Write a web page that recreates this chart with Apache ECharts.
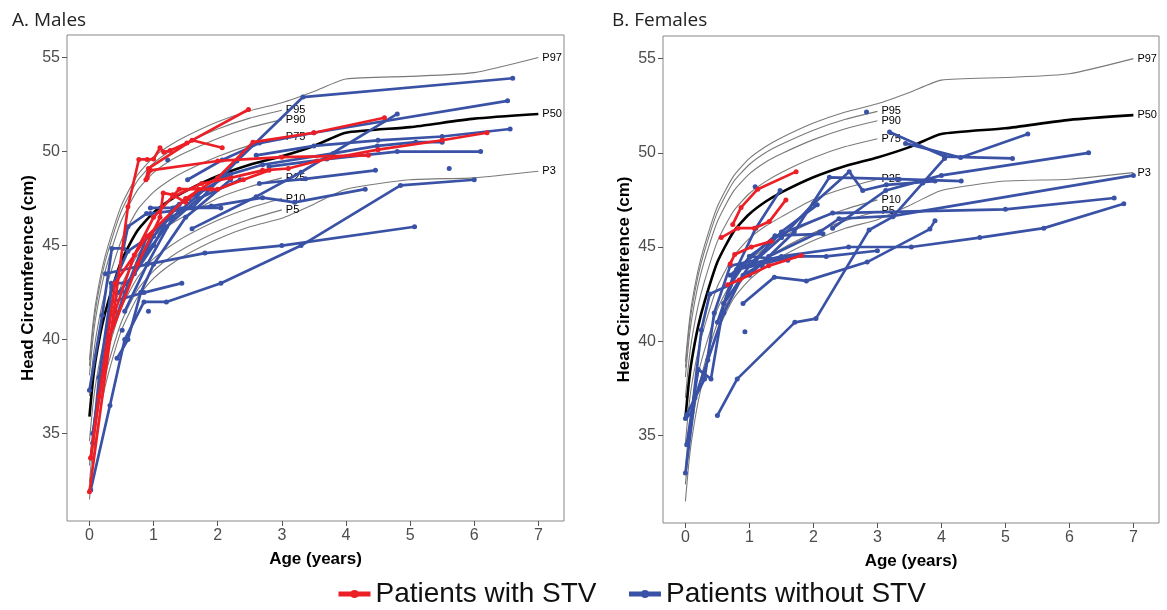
<!DOCTYPE html>
<html>
<head>
<meta charset="utf-8">
<script src="https://cdn.jsdelivr.net/npm/echarts@6/dist/echarts.min.js"></script>
<style>
  html, body { margin: 0; padding: 0; background: #fff; }
  #chart { width: 1167px; height: 610px; }
</style>
</head>
<body>
<div id="chart"></div>
<script>
// reference percentile curves (same curves drawn in both panels)
var pctAge = [0, 0.05, 0.1, 0.2, 0.3, 0.5, 0.75, 1, 1.25, 1.5, 2, 2.5, 3];
var lateAge = [3.5, 4, 5, 6, 7];
var p97 = [38.9, 40.7, 42.0, 43.8, 45.1, 47.15, 48.75, 49.7, 50.32, 50.8, 51.58, 52.17, 52.6];
var p95 = [38.6, 40.4, 41.7, 43.5, 44.8, 46.85, 48.45, 49.38, 50.0, 50.45, 51.2, 51.78, 52.2];
var p90 = [38.1, 39.9, 41.2, 43.0, 44.3, 46.35, 47.95, 48.88, 49.5, 49.95, 50.7, 51.28, 51.7];
var p75 = [37.0, 38.8, 40.1, 41.9, 43.2, 45.3, 46.9, 47.84, 48.47, 48.96, 49.74, 50.33, 50.75];
var p50 = [35.9, 37.7, 39.0, 40.8, 42.1, 44.2, 45.8, 46.75, 47.4, 47.9, 48.7, 49.3, 49.75];
var p25 = [34.6, 36.4, 37.7, 39.5, 40.8, 42.9, 44.5, 45.46, 46.1, 46.6, 47.52, 48.13, 48.6];
var p10 = [33.3, 35.1, 36.4, 38.25, 39.55, 41.7, 43.3, 44.3, 44.95, 45.5, 46.35, 47.0, 47.5];
var p5  = [32.4, 34.25, 35.6, 37.45, 38.8, 40.95, 42.65, 43.65, 44.35, 44.9, 45.75, 46.4, 46.9];
var p3  = [31.5, 33.4, 34.8, 36.8, 38.25, 40.5, 42.25, 43.25, 43.95, 44.5, 45.35, 46.0, 46.45];
var p97Late = [53.2, 53.86, 54.0, 54.2, 55.0];
var p50Late = [50.3, 51.0, 51.3, 51.75, 52.0];
var p3Late  = [47.2, 48.0, 48.5, 48.6, 48.95];

var xTicks = [0, 1, 2, 3, 4, 5, 6, 7];
var yTicks = [35, 40, 45, 50, 55];

// patients, [age in years, head circumference in cm]
var maleStv = [
  [[0.0,31.9],[0.6,47.06],[0.77,49.58],[0.9,49.58],[1.0,49.6],[1.1,50.2],[1.16,49.97],[1.26,50.06],[1.52,50.45],[2.48,52.24]],
  [[0.88,48.5],[0.92,49.1],[1.6,50.6],[2.07,50.2]],
  [[0.9,48.6],[0.95,49.0],[2.0,49.5],[3.0,49.7],[4.35,49.8]],
  [[0.02,33.7],[0.4,43.0],[0.9,45.5],[1.5,47.5],[2.0,48.6],[2.55,50.5],[3.5,51.0],[4.6,51.8]],
  [[0.3,40.0],[0.75,44.0],[1.1,46.5],[1.15,47.8],[1.3,47.7],[1.5,47.3],[1.7,48.0],[2.0,48.0],[2.4,48.5],[2.8,49.0]],
  [[1.3,47.6],[1.75,48.3],[2.2,48.6],[2.7,49.0],[3.1,49.1],[3.55,49.5],[4.5,50.1],[5.5,50.6],[6.2,51.0]],
  [[0.02,33.7],[0.15,37.0],[0.4,41.5],[0.7,44.5],[1.0,46.5],[1.4,48.0],[1.9,48.0]]
];
var maleNoStv = [
  [[1.6,47.0],[2.3,49.5],[3.33,52.9],[6.6,53.9]],
  [[1.53,48.5],[2.07,49.55],[2.65,50.45],[3.5,51.0],[6.52,52.7]],
  [[2.0,48.6],[2.7,49.3],[3.8,49.9],[4.49,50.3],[5.09,50.5],[5.5,50.5]],
  [[2.6,49.8],[3.5,50.3],[4.5,50.6],[5.5,50.8],[6.56,51.2]],
  [[2.8,49.2],[3.7,49.6],[4.8,50.0],[6.1,50.0]],
  [[1.6,45.9],[2.6,47.6],[3.3,48.9],[4.8,52.0]],
  [[2.65,48.3],[3.37,48.55],[4.46,49.0]],
  [[0.95,46.7],[1.9,47.1],[2.7,47.55],[3.2,47.3],[4.3,48.0]],
  [[0.02,32.0],[0.32,36.5],[0.55,40.0],[0.85,42.0],[1.2,42.0],[2.05,43.0],[3.3,45.0],[4.85,48.2],[6.0,48.5]],
  [[0.25,43.5],[0.9,44.0],[1.8,44.6],[3.0,45.0],[5.07,46.0]],
  [[5.61,49.1]],
  [[0.0,37.3],[0.2,41.3],[0.35,44.85],[0.53,44.85],[0.6,46.0],[0.89,46.7]],
  [[0.95,47.0],[2.05,47.0]],
  [[0.05,35.0],[0.28,40.2],[0.34,43.0],[0.55,43.0]],
  [[0.34,42.0],[0.85,42.5],[1.44,43.0]],
  [[0.43,39.0],[0.6,40.0],[0.8,42.5],[1.0,44.0],[1.5,46.5],[2.2,48.5]],
  [[0.51,40.5]],
  [[0.92,41.5]],
  [[1.22,49.55]],
  [[0.55,41.5],[0.9,44.0],[1.3,46.5],[1.8,48.0]],
  [[0.45,42.5],[0.7,43.5],[1.0,45.5],[1.4,47.2],[2.2,48.8]],
  [[0.6,43.0],[1.0,45.0],[1.3,47.0],[1.55,47.5]],
  [[0.75,44.0],[1.2,46.0],[1.7,47.5],[2.35,48.5]],
  [[0.3,40.0],[0.55,42.5],[0.9,45.5],[1.4,46.8]],
  [[0.05,34.5],[0.15,38.0],[0.35,42.8],[0.6,44.7],[0.95,45.5]]
];
var femaleStv = [
  [[0.56,45.5],[0.82,46.0],[1.08,46.0],[1.31,46.35],[1.57,47.5]],
  [[0.74,46.2],[0.87,47.1],[1.13,48.07],[1.73,49.0]],
  [[0.7,44.1],[0.77,44.6],[1.03,45.0],[1.34,45.3]],
  [[0.66,43.0],[0.84,43.25],[1.3,44.0],[1.81,44.55]]
];
var femaleNoStv = [
  [[0.5,36.06],[0.81,38.0],[1.71,41.0],[2.04,41.2],[2.87,45.9],[3.24,46.6],[3.71,48.4],[4.05,49.7]],
  [[3.19,51.1],[4.05,49.8],[5.11,49.7]],
  [[3.44,50.5],[4.3,49.75],[5.35,51.0]],
  [[2.3,46.0],[3.13,48.0],[4.0,48.8],[6.3,50.0]],
  [[1.0,43.5],[1.7,45.8],[2.25,48.7],[3.34,48.6],[4.31,48.5]],
  [[1.5,45.5],[2.0,47.3],[2.56,49.0],[2.77,48.0],[3.14,48.3],[3.9,48.5]],
  [[1.3,44.5],[2.1,45.8],[2.4,46.5],[3.25,46.65],[7.0,48.8]],
  [[1.0,44.5],[1.5,45.7],[2.3,46.8],[5.0,47.0],[6.7,47.6]],
  [[0.9,44.0],[1.5,44.5],[2.55,45.0],[3.53,45.0],[4.6,45.5],[5.6,46.0],[6.85,47.3]],
  [[0.9,42.0],[1.39,43.4],[1.89,43.2],[2.84,44.2],[3.82,45.95],[3.9,46.4]],
  [[0.8,43.8],[1.7,44.5],[2.2,44.5],[3.0,44.8]],
  [[0.7,43.5],[1.4,45.6],[2.15,45.7]],
  [[0.6,42.0],[1.0,44.0],[1.5,45.8],[2.06,47.24]],
  [[0.5,41.0],[0.75,43.5],[1.1,46.0],[1.48,48.0]],
  [[2.83,52.17]],
  [[1.09,48.2]],
  [[0.93,40.5]],
  [[0.0,33.0],[0.15,37.0],[0.35,39.0],[0.6,41.5],[0.9,43.5],[1.3,44.3]],
  [[0.02,34.5],[0.2,38.5],[0.4,38.0],[0.6,42.0],[0.85,44.0],[1.2,44.0]],
  [[0.0,35.9],[0.1,36.2],[0.25,40.6],[0.38,42.5],[0.7,43.0],[1.0,44.5],[1.6,44.3]],
  [[0.02,36.1],[0.3,38.0],[0.45,41.5],[0.7,44.0],[1.1,44.3],[1.5,45.5]]
];

var RED = '#EC1F26';
var BLUE = '#3A52A6';
var STV = 'Patients with STV';
var NO_STV = 'Patients without STV';

function pairs(xs, ys) {
  return xs.map(function (x, i) { return [x, ys[i]]; });
}

function pctLine(name, vals, late, idx) {
  var xs = pctAge, ys = vals;
  if (late) { xs = pctAge.concat(lateAge); ys = vals.concat(late); }
  var black = name === 'P50';
  return {
    type: 'line', name: name, xAxisIndex: idx, yAxisIndex: idx,
    data: pairs(xs, ys), symbol: 'none', smooth: 0.2,
    silent: true, z: 1,
    lineStyle: { color: black ? '#000' : '#7a7a7a', width: black ? 2.6 : 1.1 },
    endLabel: { show: true, formatter: name, color: '#000', fontSize: 11,
      fontFamily: 'Liberation Sans', distance: 4 }
  };
}

function patient(pts, idx, stv) {
  return {
    type: 'line', name: stv ? STV : NO_STV, xAxisIndex: idx, yAxisIndex: idx,
    data: pts, symbol: 'circle', symbolSize: 5, showSymbol: true, silent: true,
    z: stv ? 4 : 3,
    itemStyle: { color: stv ? RED : BLUE },
    lineStyle: { color: stv ? RED : BLUE, width: 2.7 }
  };
}

var series = [];
[0, 1].forEach(function (idx) {
  series.push(pctLine('P97', p97, p97Late, idx));
  series.push(pctLine('P95', p95, null, idx));
  series.push(pctLine('P90', p90, null, idx));
  series.push(pctLine('P75', p75, null, idx));
  series.push(pctLine('P25', p25, null, idx));
  series.push(pctLine('P10', p10, null, idx));
  series.push(pctLine('P5', p5, null, idx));
  series.push(pctLine('P3', p3, p3Late, idx));
  series.push(pctLine('P50', p50, p50Late, idx));
});
maleNoStv.forEach(function (p) { series.push(patient(p, 0, false)); });
maleStv.forEach(function (p) { series.push(patient(p, 0, true)); });
femaleNoStv.forEach(function (p) { series.push(patient(p, 1, false)); });
femaleStv.forEach(function (p) { series.push(patient(p, 1, true)); });

function xAxis(idx) {
  return {
    type: 'value', gridIndex: idx, min: -0.35, max: 7.4,
    name: 'Age (years)', nameLocation: 'middle', nameGap: 30,
    nameTextStyle: { fontFamily: 'Liberation Sans', fontWeight: 'bold', fontSize: 17, color: '#000' },
    axisLine: { show: false, onZero: false },
    axisTick: { show: true, customValues: xTicks, length: 5, lineStyle: { color: '#555' } },
    axisLabel: { customValues: xTicks, fontFamily: 'Liberation Sans', fontSize: 16, color: '#4d4d4d', margin: 7 },
    splitLine: { show: false }
  };
}
function yAxis(idx) {
  return {
    type: 'value', gridIndex: idx, min: 30.35, max: 56.2,
    name: 'Head Circumference (cm)', nameLocation: 'middle', nameGap: 30,
    nameTextStyle: { fontFamily: 'Liberation Sans', fontWeight: 'bold', fontSize: 17, color: '#000' },
    axisLine: { show: false, onZero: false },
    axisTick: { show: true, customValues: yTicks, length: 5, lineStyle: { color: '#555' } },
    axisLabel: { customValues: yTicks, fontFamily: 'Liberation Sans', fontSize: 16, color: '#4d4d4d', margin: 7 },
    splitLine: { show: false }
  };
}

var chart = echarts.init(document.getElementById('chart'));
chart.setOption({
  animation: false,
  backgroundColor: '#fff',
  title: [
    { text: 'A. Males', left: 7, top: 6, textStyle: { fontFamily: 'Open Sans', fontWeight: 'normal', fontSize: 19, color: '#222' } },
    { text: 'B. Females', left: 607, top: 6, textStyle: { fontFamily: 'Open Sans', fontWeight: 'normal', fontSize: 19, color: '#222' } }
  ],
  grid: [
    { left: 67, top: 35, width: 497, height: 486, show: true, borderColor: '#888', borderWidth: 1 },
    { left: 663, top: 36, width: 496, height: 487, show: true, borderColor: '#888', borderWidth: 1 }
  ],
  xAxis: [xAxis(0), xAxis(1)],
  yAxis: [yAxis(0), yAxis(1)],
  legend: {
    data: [STV, NO_STV], left: 331, top: 575, itemWidth: 32, itemHeight: 10, itemGap: 30,
    lineStyle: { width: 5 },
    textStyle: { fontFamily: 'Liberation Sans', fontSize: 28, color: '#111' },
    selectedMode: false
  },
  series: series
});
</script>
</body>
</html>
